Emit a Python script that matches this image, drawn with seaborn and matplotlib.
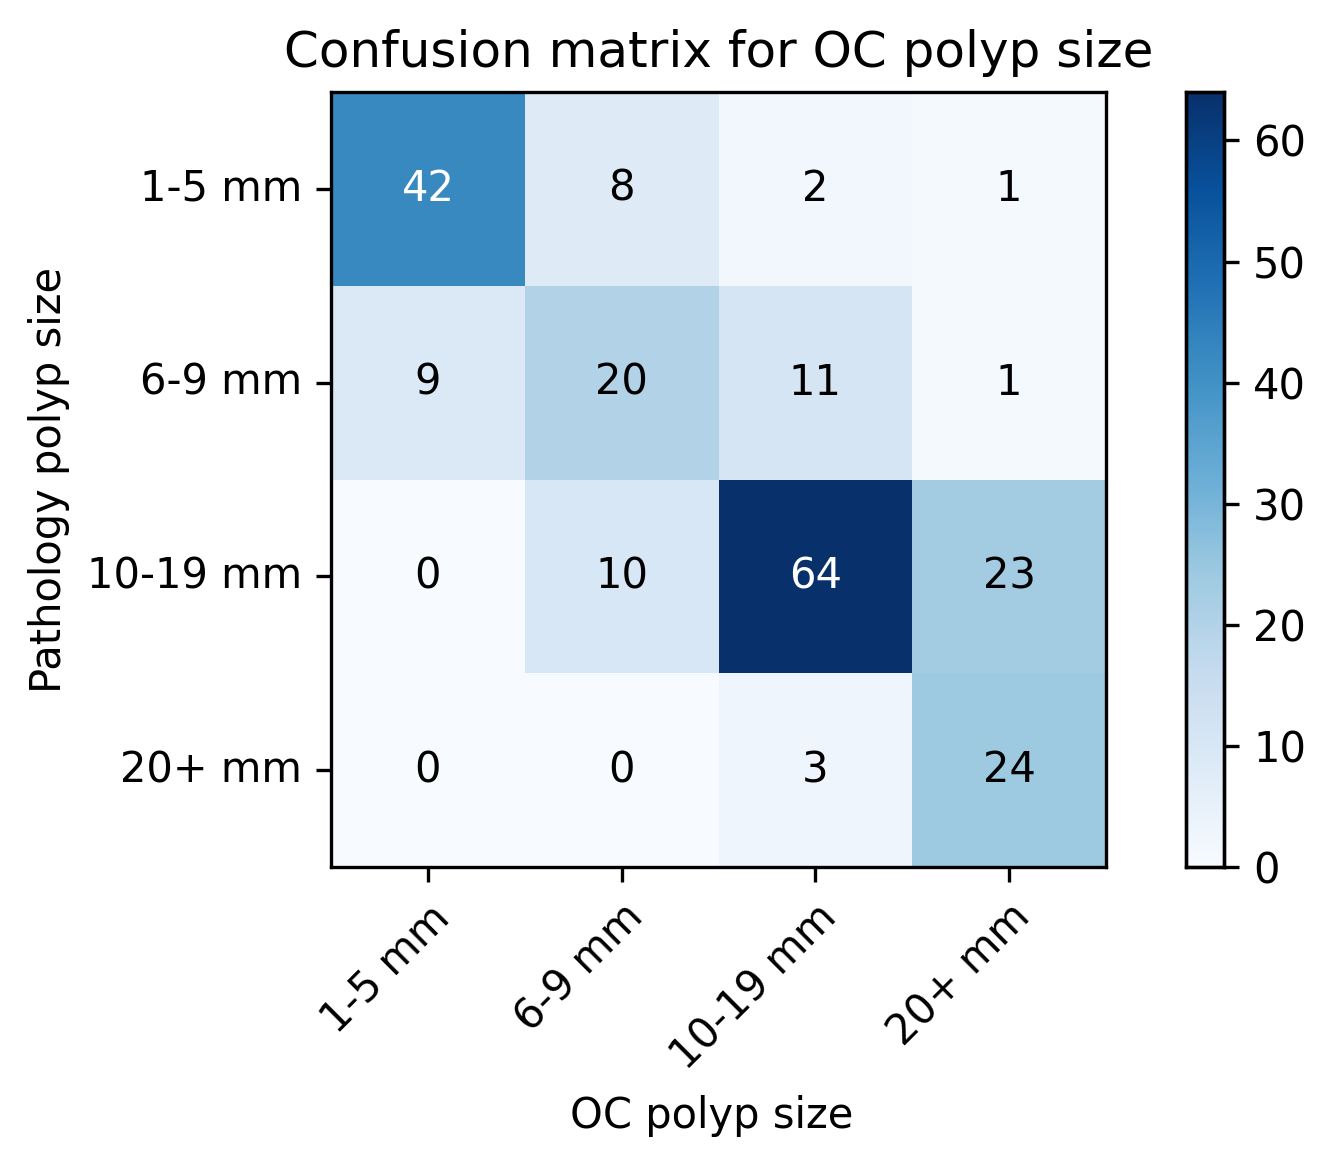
import matplotlib
matplotlib.use("Agg")
import matplotlib.pyplot as plt
import numpy as np
import seaborn as sns

labels = ["1-5 mm", "6-9 mm", "10-19 mm", "20+ mm"]
counts = [
    [42, 8, 2, 1],
    [9, 20, 11, 1],
    [0, 10, 64, 23],
    [0, 0, 3, 24],
]

cm = np.array(counts)

W, H, DPI = 1337, 1163, 300
fig = plt.figure(figsize=(W / DPI, H / DPI), dpi=DPI)
ax = fig.add_axes([331 / W, 1 - 867 / H, 775 / W, 775 / H])
cax = fig.add_axes([1186 / W, 1 - 867 / H, 38 / W, 775 / H])

sns.heatmap(cm, ax=ax, cbar_ax=cax, cmap="Blues", vmin=0, vmax=cm.max(),
            annot=True, fmt="d", annot_kws={"size": 10},
            xticklabels=labels, yticklabels=labels)

# white text on dark cells, black elsewhere
thresh = cm.max() / 2.0
for txt, val in zip(ax.texts, cm.flatten()):
    txt.set_color("white" if val > thresh else "black")

for sp in list(ax.spines.values()) + list(cax.spines.values()):
    sp.set_visible(True)
    sp.set_linewidth(0.8)
cax.set_yticks(range(0, 61, 10))
cax.tick_params(labelsize=10, length=3.5, width=0.8)

ax.tick_params(axis="both", length=3.5, width=0.8, labelsize=10)
plt.setp(ax.get_xticklabels(), rotation=45, ha="right", rotation_mode="anchor")
plt.setp(ax.get_yticklabels(), rotation=0)

ax.set_title("Confusion matrix for OC polyp size", fontsize=12)
ax.set_xlabel("OC polyp size", fontsize=10)
ax.set_ylabel("Pathology polyp size", fontsize=10)
ax.xaxis.label.set_x(0.4916)

fig.savefig("out.png", dpi=DPI)
